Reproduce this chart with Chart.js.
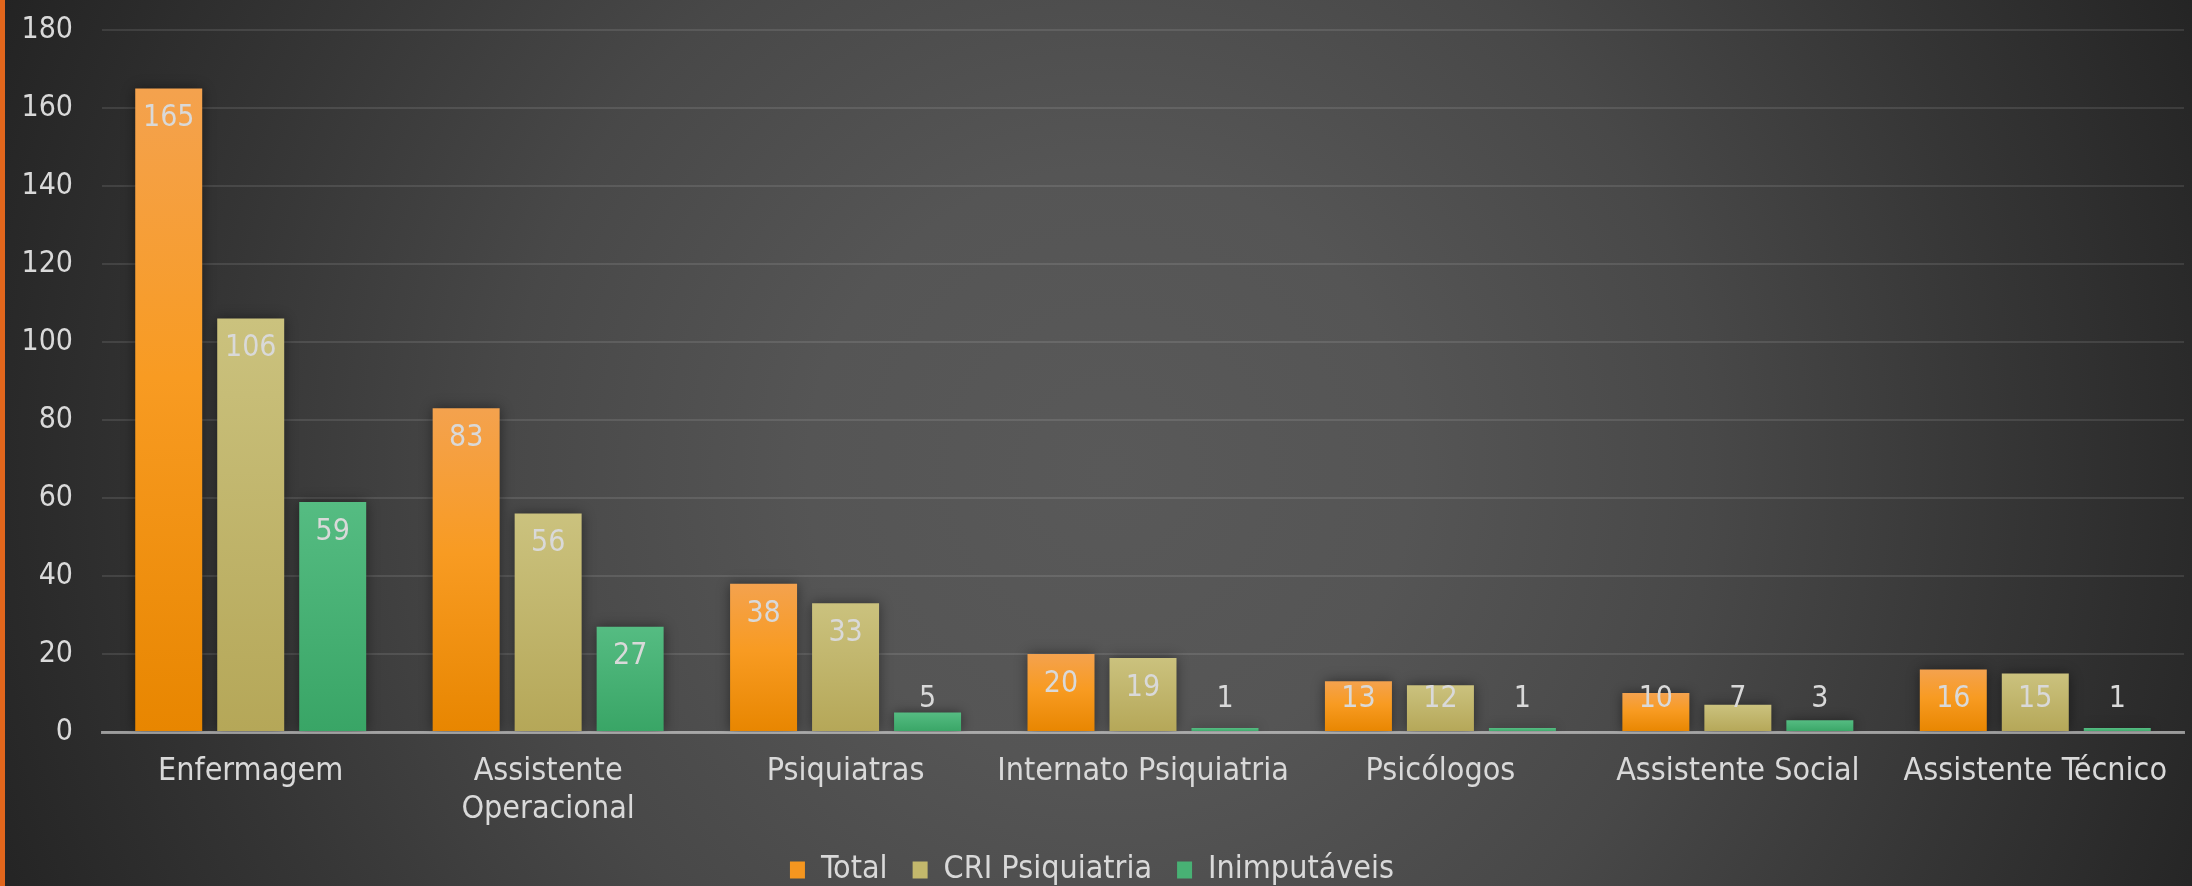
<!DOCTYPE html>
<html>
<head>
<meta charset="utf-8">
<script src="https://cdn.jsdelivr.net/npm/chart.js@4.4.1/dist/chart.umd.min.js"></script>
<style>
  html, body { margin: 0; padding: 0; }
  body {
    width: 2192px; height: 886px; overflow: hidden; position: relative;
    background: radial-gradient(circle farthest-corner at 1110px 470px, #595959 0%, #555555 25%, #484848 50%, #353535 75%, #232323 100%);
  }
  #strip { position: absolute; left: 0; top: 0; width: 5px; height: 886px; background: #e2661c; }
  #wrap { position: absolute; left: 0; top: 0; width: 2192px; height: 886px; }
</style>
</head>
<body>
<div id="wrap"><canvas id="chart" width="2192" height="886"></canvas></div>
<div id="strip"></div>
<script>
const categories = ['Enfermagem', ['Assistente', 'Operacional'], 'Psiquiatras', 'Internato Psiquiatria', 'Psicólogos', 'Assistente Social', 'Assistente Técnico'];
const seriesNames = ['Total', 'CRI Psiquiatria', 'Inimputáveis'];
const total = [165, 83, 38, 20, 13, 10, 16];
const criPsiquiatria = [106, 56, 33, 19, 12, 7, 15];
const inimputaveis = [59, 27, 5, 1, 1, 3, 1];
const yMax = 180;
const yStep = 20;

const FONT = 'DejaVu Sans Condensed';
const TEXT = '#d9d9d9';

// per-bar vertical gradient, light at the top
function barGradient(stops, fallback) {
  return c => {
    const chart = c.chart;
    const y = chart.scales.y;
    if (!y || typeof c.raw !== 'number') return fallback;
    const top = y.getPixelForValue(c.raw);
    const base = y.getPixelForValue(0);
    if (!isFinite(top) || base - top < 1) return fallback;
    const g = chart.ctx.createLinearGradient(0, top, 0, base);
    stops.forEach(([p, col]) => g.addColorStop(p, col));
    return g;
  };
}

const legendColors = ['#f5961f', '#c3b86c', '#48b174'];

const barShadow = {
  id: 'barShadow',
  beforeDatasetsDraw(chart) {
    const ctx = chart.ctx;
    ctx.save();
    ctx.shadowColor = 'rgba(0,0,0,0.45)';
    ctx.shadowBlur = 12;
  },
  afterDatasetsDraw(chart) {
    chart.ctx.restore();
  }
};

const valueLabels = {
  id: 'valueLabels',
  afterDatasetsDraw(chart) {
    const ctx = chart.ctx;
    ctx.save();
    ctx.font = '30px "' + FONT + '"';
    ctx.fillStyle = TEXT;
    ctx.textAlign = 'center';
    ctx.textBaseline = 'middle';
    chart.data.datasets.forEach((ds, i) => {
      chart.getDatasetMeta(i).data.forEach((bar, j) => {
        const y = Math.min(bar.y + 30, bar.base - 32);
        ctx.fillText(String(ds.data[j]), bar.x, y);
      });
    });
    ctx.restore();
  }
};

new Chart(document.getElementById('chart'), {
  type: 'bar',
  data: {
    labels: categories,
    datasets: [
      {
        label: seriesNames[0],
        data: total,
        backgroundColor: barGradient([[0, '#f4a24e'], [0.45, '#f89b22'], [1, '#e88600']], '#f5961f')
      },
      {
        label: seriesNames[1],
        data: criPsiquiatria,
        backgroundColor: barGradient([[0, '#cbc27e'], [1, '#b5a758']], '#c3b86c')
      },
      {
        label: seriesNames[2],
        data: inimputaveis,
        backgroundColor: barGradient([[0, '#55bc82'], [1, '#39a566']], '#48b174')
      }
    ]
  },
  options: {
    responsive: false,
    animation: false,
    devicePixelRatio: 1,
    categoryPercentage: 0.827,
    barPercentage: 0.817,
    layout: { padding: { top: 30, right: 8, bottom: -10, left: 0 } },
    scales: {
      x: {
        z: 1,
        grid: { drawOnChartArea: false, drawTicks: false },
        border: { display: true, color: 'rgba(217,217,217,0.6)', width: 3 },
        ticks: {
          color: TEXT,
          font: { family: FONT, size: 32 },
          padding: 20,
          maxRotation: 0,
          autoSkip: false
        },
        afterFit: s => { s.height = 97; }
      },
      y: {
        min: 0,
        max: yMax,
        grid: { color: 'rgba(255,255,255,0.1)', lineWidth: 2, drawTicks: false },
        border: { display: false },
        ticks: {
          stepSize: yStep,
          color: TEXT,
          font: { family: FONT, size: 30 },
          padding: 29
        },
        afterFit: s => { s.width = 102; s.paddingTop = 0; }
      }
    },
    plugins: {
      tooltip: { enabled: false },
      legend: {
        position: 'bottom',
        labels: {
          color: TEXT,
          font: { family: FONT, size: 32 },
          boxWidth: 15,
          boxHeight: 17,
          padding: 25,
          generateLabels: chart => {
            const items = Chart.defaults.plugins.legend.labels.generateLabels(chart);
            items.forEach((it, i) => { it.fillStyle = legendColors[i]; it.strokeStyle = legendColors[i]; it.lineWidth = 0; });
            return items;
          }
        }
      }
    }
  },
  plugins: [barShadow, valueLabels]
});
</script>
</body>
</html>
